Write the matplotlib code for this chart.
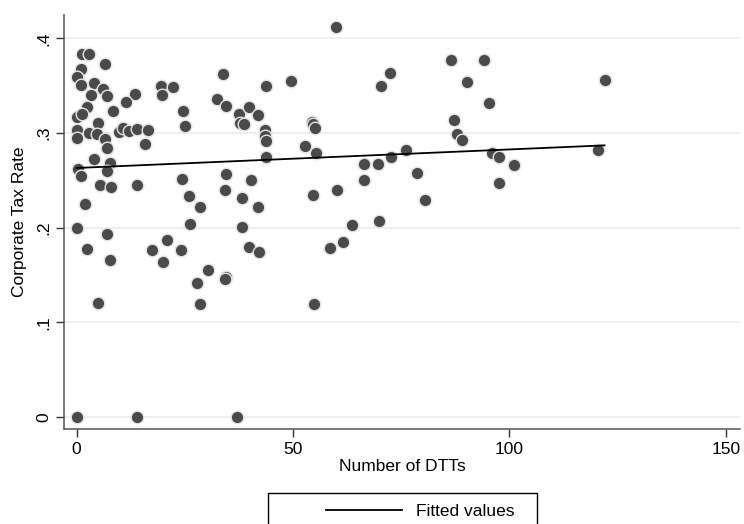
import matplotlib.pyplot as plt
import numpy as np
from matplotlib.lines import Line2D
from matplotlib.patches import Rectangle

plt.rcParams['font.family'] = ['Liberation Sans', 'DejaVu Sans']

# Number of DTTs (x) and corporate tax rate (y)
dtts = [0, 14, 37, 1.2, 2.9, 6.5, 0.9, 0, 0.9, 4.1, 6.1, 3.2, 6.9, 13.5, 11.3, 8.3,
        2.3, 0, 1.3, 5.0, 0, 0, 2.9, 4.8, 6.5, 6.9, 9.8, 10.8, 12.1, 14.0, 16.5, 15.8,
        4.1, 7.8, 0.4, 0.9, 6.9, 5.5, 7.9, 14.0, 1.9, 0, 6.9, 2.4, 7.7, 5.0, 17.5,
        19.6, 22.2, 19.8, 24.6, 25.0, 33.8, 32.4, 34.5, 37.5, 39.8, 41.9, 37.7, 38.6,
        43.8, 43.5, 43.5, 43.7, 43.7, 24.4, 25.9, 28.5, 34.5, 34.2, 38.1, 40.4, 41.9,
        26.1, 20.9, 20.0, 24.2, 30.4, 27.9, 34.6, 34.2, 28.6, 38.3, 39.8, 42.1,
        49.6, 60.0, 54.5, 54.7, 55.0, 52.8, 55.2, 54.6, 60.2, 54.8, 63.7, 61.5, 58.6,
        66.5, 66.4, 69.6, 69.8, 70.4, 72.5, 72.7, 76.0, 78.6, 80.6,
        86.5, 94.1, 90.1, 95.2, 87.3, 87.8, 89.1, 96.1, 97.7, 97.5, 101.0, 122.0, 120.5]
tax_rate = [0, 0, 0, 0.383, 0.383, 0.373, 0.368, 0.359, 0.351, 0.353, 0.346, 0.340,
            0.339, 0.341, 0.333, 0.323, 0.327, 0.317, 0.320, 0.311, 0.303, 0.295, 0.300,
            0.299, 0.294, 0.284, 0.301, 0.305, 0.302, 0.304, 0.303, 0.288,
            0.273, 0.268, 0.262, 0.255, 0.260, 0.245, 0.243, 0.245, 0.225, 0.200, 0.193,
            0.177, 0.166, 0.120, 0.176,
            0.350, 0.349, 0.340, 0.323, 0.307, 0.362, 0.336, 0.329, 0.320, 0.327, 0.319,
            0.311, 0.310, 0.350, 0.303, 0.297, 0.292, 0.275, 0.251, 0.233, 0.222, 0.257,
            0.240, 0.231, 0.250, 0.222, 0.204, 0.187, 0.164, 0.176, 0.155, 0.1415, 0.148,
            0.1455, 0.119, 0.201, 0.180, 0.174,
            0.355, 0.412, 0.312, 0.309, 0.305, 0.286, 0.279, 0.234, 0.240, 0.119, 0.203,
            0.185, 0.178, 0.267, 0.250, 0.267, 0.207, 0.350, 0.363, 0.275, 0.282, 0.258,
            0.229,
            0.377, 0.377, 0.354, 0.332, 0.314, 0.299, 0.293, 0.279, 0.275, 0.247, 0.266,
            0.356, 0.282]

x = np.array(dtts)
y = np.array(tax_rate)

y_ticks = [0, 0.1, 0.2, 0.3, 0.4]
y_ticklabels = ['0', '.1', '.2', '.3', '.4']
x_ticks = [0, 50, 100, 150]

fig = plt.figure(figsize=(7.44, 5.24), dpi=100)
ax = fig.add_axes([0.086, 0.181, 0.9086, 0.790])

# light horizontal grid
for t in y_ticks:
    ax.axhline(t, color='#ebebeb', lw=1.1, zorder=0)

ax.scatter(x, y, s=82, facecolor='#4a4a4a', edgecolor='#e4e4e4',
           linewidth=1.0, zorder=2)

# linear fit over the observed x range
slope, intercept = np.polyfit(x, y, 1)
xf = np.array([x.min(), x.max()])
ax.plot(xf, intercept + slope * xf, color='black', lw=1.3, zorder=3)

ax.set_xlim(-2.93, 153.3)
ax.set_ylim(-0.013, 0.4245)
ax.set_xticks(x_ticks)
ax.set_yticks(y_ticks)
ax.set_yticklabels(y_ticklabels, rotation=90, va='center')
ax.tick_params(axis='both', direction='out', length=6, width=1,
               color='#333333', labelsize=12.5, pad=3)

for side in ['top', 'right']:
    ax.spines[side].set_visible(False)
for side in ['left', 'bottom']:
    ax.spines[side].set_color('#555555')
    ax.spines[side].set_linewidth(1.1)

ax.set_xlabel('Number of DTTs', fontsize=12.5, labelpad=2)
ax.set_ylabel('Corporate Tax Rate', fontsize=12.5, labelpad=7)

# legend box (Stata style, square corners)
fig.patches.append(Rectangle((268 / 744, -0.02), (537 - 268) / 744, 0.02 + (524 - 493) / 524,
                             transform=fig.transFigure, fill=False,
                             edgecolor='black', lw=1))
handle = Line2D([], [], color='black', lw=1.3)
fig.legend([handle], ['Fitted values'], loc='center left',
           bbox_to_anchor=(310 / 744, 1 - 511 / 524), frameon=False,
           fontsize=12.5, handlelength=4.4, handletextpad=0.8)

plt.savefig('out.png', dpi=100)
plt.close()
